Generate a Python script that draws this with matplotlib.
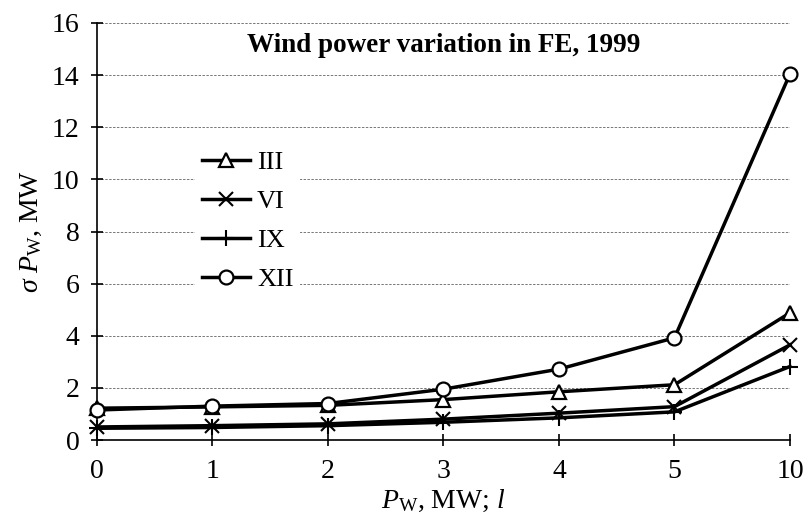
import matplotlib
matplotlib.use("Agg")
import matplotlib.pyplot as plt

categories = ['0', '1', '2', '3', '4', '5', '10']
series_names = ['III', 'VI', 'IX', 'XII']
III = [1.22, 1.27, 1.33, 1.55, 1.85, 2.12, 4.88]
VI = [0.50, 0.55, 0.62, 0.80, 1.03, 1.28, 3.65]
IX = [0.45, 0.48, 0.55, 0.68, 0.85, 1.08, 2.82]
XII = [1.15, 1.30, 1.40, 1.95, 2.72, 3.92, 14.05]
yticks = [0, 2, 4, 6, 8, 10, 12, 14, 16]

plt.rcParams['font.family'] = ['Liberation Serif', 'DejaVu Serif']
plt.rcParams['mathtext.fontset'] = 'custom'
plt.rcParams['mathtext.rm'] = 'Liberation Serif'
plt.rcParams['mathtext.it'] = 'Liberation Serif:italic'
plt.rcParams['mathtext.bf'] = 'Liberation Serif:bold'

fig = plt.figure(figsize=(8.04, 5.21), dpi=100)
ax = fig.add_axes([97/804, 1-440/521, 693/804, 417/521])

x = list(range(len(categories)))
styles = [
    dict(marker='^', ms=9.5, mfc='white', mec='black', mew=1.6),
    dict(marker='x', ms=10, mfc='none', mec='black', mew=1.5),
    dict(marker='+', ms=12, mfc='none', mec='black', mew=1.5),
    dict(marker='o', ms=10, mfc='white', mec='black', mew=1.6),
]
for name, vals, st in zip(series_names, [III, VI, IX, XII], styles):
    ax.plot(x, vals, color='black', lw=2.5, label=name, clip_on=False, zorder=3, **st)

ax.set_xlim(0, len(categories) - 1)
ax.set_ylim(0, 16)
ax.set_xticks(x)
ax.set_xticklabels(categories)
ax.set_yticks(yticks)
ax.yaxis.grid(True, linestyle=(0, (2.5, 1.5)), color='#777777', lw=0.7)
ax.set_axisbelow(True)
for s in ['top', 'right']:
    ax.spines[s].set_visible(False)
for s in ['left', 'bottom']:
    ax.spines[s].set_linewidth(1.2)
ax.tick_params(axis='both', direction='inout', length=9, width=1.2, labelsize=20, colors='black')
ax.tick_params(axis='x', pad=9)
ax.tick_params(axis='y', pad=8)

ax.set_xlabel(r'$P_{\mathrm{W}}$, MW; $l$', fontsize=20, labelpad=3)
ax.set_ylabel(r'$\sigma\ P_{\mathrm{W}}$, MW', fontsize=20, labelpad=6)

ax.text(0.5, 0.945, 'Wind power variation in FE, 1999', transform=ax.transAxes,
        ha='center', va='center', fontsize=19.5, fontweight='bold')

leg = ax.legend(loc='upper left', bbox_to_anchor=((195-97)/693, (440-144)/417),
                frameon=True, fancybox=False, edgecolor='none', facecolor='white', framealpha=1,
                fontsize=19, handlelength=1.85, handletextpad=0.25, labelspacing=0.59,
                borderpad=0.25, borderaxespad=0)
leg.set_zorder(5)

fig.savefig('out.png', dpi=100)
